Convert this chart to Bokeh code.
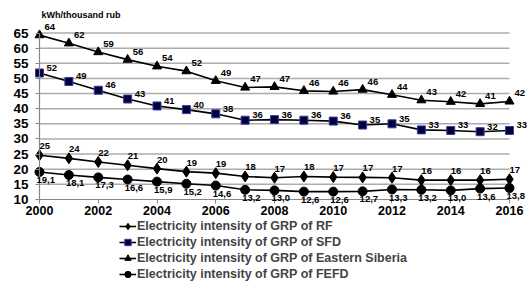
from bokeh.plotting import figure
from bokeh.models import (ColumnDataSource, LabelSet, Label, Legend, LinearAxis,
                          FixedTicker, SingleIntervalTicker, Range1d)
from bokeh.core.properties import value
from bokeh.embed import file_html
from bokeh.resources import INLINE

years = list(range(2000, 2017))
x_ticks = list(range(2000, 2017, 2))
y_ticks = list(range(10, 70, 5))

rf = [24.6, 23.6, 22.4, 21.3, 20.2, 19.2, 18.7, 17.6, 17.2, 17.6, 17.4, 17.3, 17.2, 16.4, 16.4, 16.4, 16.7]
rf_lbl = ["25", "24", "22", "21", "20", "19", "19", "18", "17", "18", "17", "17", "17", "16", "16", "16", "17"]
sfd = [51.8, 49.0, 46.1, 43.2, 40.9, 39.7, 38.3, 36.2, 36.4, 36.2, 35.9, 34.6, 35.0, 33.0, 32.8, 32.4, 32.8]
sfd_lbl = ["52", "49", "46", "43", "41", "40", "38", "36", "36", "36", "36", "35", "35", "33", "33", "32", "33"]
es = [64.3, 61.6, 58.7, 56.2, 54.0, 52.4, 49.2, 47.0, 47.2, 45.9, 45.7, 46.3, 44.6, 42.8, 42.3, 41.6, 42.4]
es_lbl = ["64", "62", "59", "56", "54", "52", "49", "47", "47", "46", "46", "46", "44", "43", "42", "41", "42"]
fefd = [19.1, 18.1, 17.3, 16.6, 15.9, 15.2, 14.6, 13.2, 13.0, 12.6, 12.6, 12.7, 13.3, 13.2, 13.0, 13.6, 13.8]
fefd_lbl = ["19,1", "18,1", "17,3", "16,6", "15,9", "15,2", "14,6", "13,2", "13,0", "12,6", "12,6", "12,7", "13,3", "13,2", "13,0", "13,6", "13,8"]

names = ["Electricity intensity of GRP of RF",
         "Electricity intensity of GRP of SFD",
         "Electricity intensity of GRP of Eastern Siberia",
         "Electricity intensity of GRP of FEFD"]
unit_title = "kWh/thousand rub"

FONT = "Liberation Sans"

# frame covers the whole canvas; ranges chosen so 2000..2016 / 10..65 sit where the reference plot area is
p = figure(width=528, height=284, output_backend="svg", toolbar_location=None,
           x_range=Range1d(1998.672, 2016.647), y_range=Range1d(-18.08, 75.74),
           x_axis_location=None, y_axis_location=None,
           min_border=0, min_border_left=0, min_border_right=0,
           min_border_top=0, min_border_bottom=0)
p.background_fill_color = "white"
p.border_fill_color = "white"
p.outline_line_color = None
p.grid.visible = False

# horizontal grid lines limited to the plot area
grid_src = ColumnDataSource(dict(y=y_ticks[1:]))
p.segment(x0=years[0], x1=years[-1], y0="y", y1="y", source=grid_src,
          line_color="#acacac", line_width=1.5)

yaxis = LinearAxis(fixed_location=years[0], bounds=(y_ticks[0], y_ticks[-1]),
                   ticker=SingleIntervalTicker(interval=5))
xaxis = LinearAxis(fixed_location=y_ticks[0], bounds=(years[0], years[-1]),
                   ticker=FixedTicker(ticks=x_ticks))
for ax in (xaxis, yaxis):
    ax.axis_line_color = "#868686"
    ax.axis_line_width = 1.2
    ax.major_tick_line_color = "#868686"
    ax.minor_tick_line_color = None
    ax.major_tick_in = 0
    ax.major_tick_out = 4
    ax.major_label_text_font = FONT
    ax.major_label_text_font_style = "bold"
    ax.major_label_text_color = "black"
yaxis.major_label_text_font_size = "13.5px"
xaxis.major_label_text_font_size = "12.5px"
yaxis.major_label_standoff = 7
xaxis.major_label_standoff = 3
p.add_layout(yaxis, "left")
p.add_layout(xaxis, "below")

p.add_layout(Label(x=years[0], y=y_ticks[-1], x_offset=2, y_offset=18, text=unit_title,
                   text_font=FONT, text_font_size="9px", text_font_style="bold",
                   text_baseline="middle", text_color="black"))

series = [
    # values, labels, marker, size, fill, line, x_off, y_off
    (rf, rf_lbl, "diamond", 11, "black", "black", 0, 9),
    (sfd, sfd_lbl, "square", 8, "#00003a", "#3a3aa0", 7, 5),
    (es, es_lbl, "triangle", 9, "black", "black", 5, 8),
    (fefd, fefd_lbl, "circle", 9, "black", "black", -3, -8),
]

items = []
for (vals, lbls, marker, size, fill, line, xo, yo), name in zip(series, names):
    src = ColumnDataSource(dict(x=years, y=vals, t=lbls))
    r1 = p.line("x", "y", source=src, line_color="black", line_width=1.6)
    r2 = p.scatter("x", "y", source=src, marker=marker, size=size,
                   fill_color=fill, line_color=line, line_width=1)
    ls = LabelSet(x="x", y="y", text="t", source=src, x_offset=xo, y_offset=yo,
                  text_font=value(FONT), text_font_size="9.5px", text_font_style="bold",
                  text_baseline="middle", text_align="left", text_color="black")
    p.add_layout(ls)
    items.append((name, [r1, r2]))

legend = Legend(items=items, location=(119, 2), orientation="vertical",
                label_text_font=FONT, label_text_font_size="12.5px",
                label_text_font_style="bold", label_height=16, glyph_height=16,
                glyph_width=17, spacing=0, padding=0, margin=0,
                border_line_color=None, background_fill_alpha=0,
                label_standoff=1)
p.add_layout(legend, "center")

open("out.html", "w").write(file_html(p, INLINE))
